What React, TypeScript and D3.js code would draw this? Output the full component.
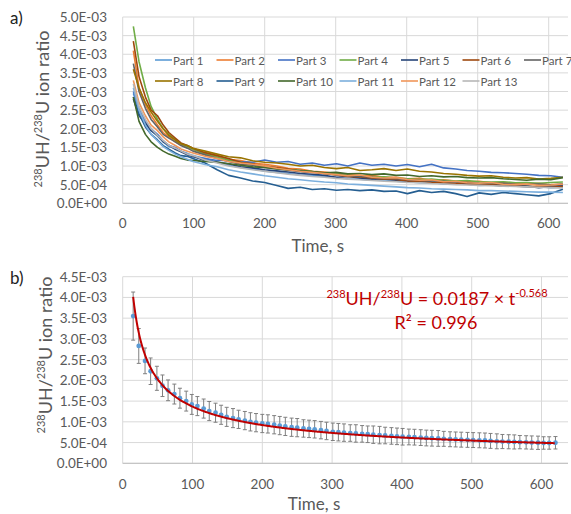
import React from 'react';
import * as d3 from 'd3';

// values are stored in units of 1e-4 (ion ratio)
const UNIT = 1e-4;

const LINE_TIMES = [15, 23, 32, 40, 49, 57, 65, 74, 82, 91, 99,
  116, 133, 149, 166, 183, 200, 217, 233, 250, 267,
  284, 301, 317, 334, 351, 368, 385, 401, 418, 435,
  452, 469, 485, 502, 519, 536, 553, 569, 586, 603, 620];

const PART_NAMES = ['Part 1', 'Part 2', 'Part 3', 'Part 4', 'Part 5', 'Part 6', 'Part 7',
  'Part 8', 'Part 9', 'Part 10', 'Part 11', 'Part 12', 'Part 13'];
const PART_COLORS = ['#5B9BD5', '#ED7D31', '#4472C4', '#70AD47', '#264478', '#9E480E', '#636363',
  '#997300', '#255E91', '#43682B', '#7CAFDD', '#F1975A', '#B7B7B7'];

const PART1 = [29.5, 25.0, 21.5, 19.5, 18.0, 16.5, 15.2, 14.8, 14.0, 13.4,
  12.8, 12.0, 11.0, 10.2, 9.6, 9.3, 8.6, 8.3, 8.0, 7.6,
  7.5, 7.2, 6.9, 6.6, 6.5, 6.2, 6.3, 5.9, 5.8, 5.5,
  5.6, 5.2, 5.1, 5.2, 4.8, 4.9, 4.6, 4.7, 4.4, 4.5,
  4.2, 4.3];
const PART2 = [41.0, 31.0, 26.5, 23.5, 21.0, 19.0, 17.8, 16.5, 15.8, 15.0,
  14.5, 13.5, 12.8, 11.8, 11.5, 10.8, 10.5, 10.0, 9.4, 9.2,
  8.6, 8.4, 8.0, 7.9, 7.4, 7.5, 7.0, 7.0, 6.6, 6.7,
  6.2, 6.3, 6.0, 5.8, 5.9, 5.5, 5.6, 5.3, 5.2, 5.4,
  5.0, 5.1];
const PART3 = [30.0, 25.5, 22.0, 20.0, 18.5, 16.8, 15.5, 15.0, 14.0, 13.2,
  12.5, 12.0, 11.5, 11.5, 11.2, 11.0, 11.6, 11.0, 11.2, 10.5,
  10.8, 10.2, 10.6, 10.0, 10.8, 10.2, 10.5, 10.0, 10.4, 9.8,
  10.5, 9.5, 9.2, 8.8, 8.6, 8.3, 8.2, 8.0, 7.8, 7.5,
  7.4, 7.0];
const PART4 = [47.5, 38.0, 31.0, 26.0, 22.5, 20.0, 18.5, 17.0, 16.0, 15.2,
  14.5, 13.2, 12.4, 11.6, 11.0, 10.4, 9.8, 9.5, 9.0, 8.8,
  8.5, 8.0, 7.9, 7.5, 7.4, 7.0, 7.1, 6.8, 6.6, 6.4,
  6.5, 6.2, 6.0, 6.1, 5.8, 5.7, 5.8, 5.5, 5.6, 5.4,
  5.6, 5.7];
const PART5 = [28.0, 23.5, 21.5, 19.5, 18.2, 16.5, 15.6, 14.5, 13.8, 13.0,
  12.6, 11.4, 11.0, 10.6, 9.8, 9.5, 9.0, 8.7, 8.4, 8.0,
  7.8, 7.5, 7.0, 7.2, 6.8, 6.5, 6.6, 6.2, 6.0, 6.1,
  5.7, 5.6, 5.4, 5.5, 5.0, 5.2, 4.8, 4.9, 4.6, 4.2,
  4.5, 4.8];
const PART6 = [43.5, 34.0, 28.5, 25.0, 23.5, 21.0, 19.0, 17.5, 16.2, 15.5,
  14.8, 13.6, 12.8, 12.0, 11.0, 10.6, 10.0, 9.6, 9.2, 8.6,
  8.4, 8.0, 7.6, 7.2, 7.1, 6.8, 6.5, 6.4, 6.0, 5.9,
  5.6, 5.5, 5.3, 5.1, 4.9, 5.0, 4.7, 4.6, 4.5, 4.4,
  4.3, 4.5];
const PART7 = [37.5, 30.0, 25.5, 22.5, 20.5, 18.5, 17.5, 16.5, 15.5, 14.8,
  14.0, 13.0, 12.0, 11.2, 10.5, 10.2, 9.6, 9.3, 8.9, 8.5,
  8.3, 8.1, 7.6, 7.4, 7.2, 7.0, 6.7, 6.6, 6.4, 6.1,
  6.0, 5.9, 5.7, 5.6, 5.4, 5.3, 5.4, 5.1, 5.0, 5.2,
  4.9, 5.2];
const PART8 = [36.0, 31.0, 27.0, 24.5, 22.0, 20.0, 18.2, 17.0, 16.0, 15.5,
  14.8, 14.0, 13.2, 12.5, 12.2, 11.4, 11.0, 10.8, 10.5, 10.0,
  10.2, 9.6, 9.3, 9.6, 8.8, 9.0, 9.3, 8.8, 9.2, 8.6,
  8.4, 8.0, 7.8, 7.5, 7.3, 7.4, 7.0, 6.8, 6.9, 6.5,
  6.7, 7.0];
const PART9 = [28.5, 24.0, 20.5, 18.5, 17.0, 15.5, 14.5, 13.5, 12.8, 12.6,
  12.0, 10.8, 9.0, 7.5, 6.8, 6.0, 5.6, 4.8, 4.0, 4.3,
  3.7, 3.9, 3.5, 3.7, 3.4, 3.6, 3.2, 3.3, 2.6, 3.4,
  2.9, 3.2, 2.6, 1.8, 2.8, 2.4, 2.9, 2.6, 2.3, 2.0,
  2.6, 3.8];
const PART10 = [28.5, 22.0, 18.5, 16.5, 15.0, 14.0, 13.2, 12.6, 12.0, 11.6,
  11.5, 11.2, 11.0, 10.6, 10.2, 9.8, 9.6, 9.2, 9.0, 8.8,
  8.5, 8.2, 8.3, 7.9, 8.0, 7.7, 7.9, 7.5, 7.6, 7.2,
  7.4, 7.1, 7.2, 6.9, 6.8, 6.9, 6.6, 6.4, 6.2, 6.5,
  6.3, 6.9];
const PART11 = [31.0, 25.0, 21.0, 18.5, 16.8, 15.2, 14.2, 13.2, 12.5, 11.8,
  11.2, 10.4, 9.8, 9.0, 8.4, 7.9, 7.4, 7.0, 6.6, 6.3,
  6.0, 5.7, 5.5, 5.2, 5.0, 4.8, 4.6, 4.4, 4.2, 4.1,
  3.9, 3.8, 3.7, 3.6, 3.4, 3.4, 3.3, 3.2, 3.1, 3.0,
  3.0, 2.9];
const PART12 = [33.0, 27.0, 23.5, 21.0, 19.5, 17.8, 16.5, 15.5, 14.6, 14.0,
  13.5, 12.6, 12.0, 11.2, 10.8, 10.5, 10.0, 9.4, 9.0, 8.6,
  8.3, 8.0, 7.7, 7.4, 7.6, 7.0, 6.8, 6.9, 6.4, 6.2,
  6.3, 5.8, 5.9, 5.5, 5.4, 5.6, 5.1, 5.0, 5.2, 4.8,
  4.9, 5.1];
const PART13 = [32.0, 26.0, 22.5, 20.0, 18.2, 16.8, 15.6, 14.8, 14.0, 13.2,
  12.8, 11.6, 10.8, 10.0, 9.5, 9.0, 8.6, 8.2, 7.8, 7.5,
  7.2, 7.0, 6.7, 6.5, 6.3, 6.1, 5.9, 5.8, 5.6, 5.5,
  5.3, 5.2, 5.0, 4.9, 4.8, 4.7, 4.6, 4.5, 4.4, 4.3,
  4.2, 4.1];
const PARTS = [PART1, PART2, PART3, PART4, PART5, PART6, PART7, PART8, PART9, PART10, PART11, PART12, PART13];

const MEAN_TIMES = [15, 23, 32, 40, 49, 57, 65, 74, 82, 91,
  99, 107, 116, 124, 133, 141, 149, 158, 166, 175,
  183, 191, 200, 208, 217, 225, 233, 242, 250, 259,
  267, 275, 284, 292, 301, 309, 317, 326, 334, 343,
  351, 359, 368, 376, 385, 393, 401, 410, 418, 427,
  435, 443, 452, 460, 469, 477, 485, 494, 502, 511,
  519, 527, 536, 544, 553, 561, 569, 578, 586, 595,
  603, 611, 620];
const MEAN_VALUES = [35.5, 28.3, 24.7, 22.2, 20.5, 18.7, 17.6, 16.7, 15.7, 15.0,
  14.2, 13.8, 13.2, 12.6, 12.2, 11.7, 11.2, 10.9, 10.6, 10.3,
  10.0, 9.8, 9.6, 9.5, 9.3, 9.1, 8.9, 8.7, 8.6, 8.4,
  8.3, 8.2, 8.0, 7.8, 7.6, 7.5, 7.4, 7.3, 7.2, 7.1,
  7.0, 6.9, 6.8, 6.7, 6.6, 6.5, 6.4, 6.35, 6.3, 6.2,
  6.1, 6.05, 6.0, 5.9, 5.8, 5.75, 5.7, 5.65, 5.6, 5.55,
  5.5, 5.4, 5.3, 5.25, 5.2, 5.15, 5.1, 5.05, 5.0, 4.95,
  4.9, 4.9, 4.95];
const MEAN_SD = [5.8, 4.2, 3.1, 3.2, 2.9, 2.6, 2.5, 2.4, 2.4, 2.4,
  2.4, 2.3, 2.3, 2.3, 2.3, 2.3, 2.3, 2.3, 2.2, 2.2,
  2.2, 2.2, 2.2, 2.2, 2.2, 2.2, 2.2, 2.2, 2.2, 2.1,
  2.1, 2.1, 2.1, 2.1, 2.1, 2.1, 2.1, 2.0, 2.1, 2.0,
  2.0, 2.1, 2.1, 2.0, 2.0, 2.0, 2.0, 1.9, 1.9, 1.9,
  1.9, 1.9, 1.9, 1.8, 1.8, 1.8, 1.8, 1.8, 1.8, 1.8,
  1.8, 1.8, 1.8, 1.7, 1.7, 1.7, 1.6, 1.6, 1.6, 1.6,
  1.5, 1.5, 1.5];

const FIT_COEF = 0.0187;
const FIT_EXP = -0.568;

const X_TICKS = [0, 100, 200, 300, 400, 500, 600];
const Y_TICKS_A = [0, 5, 10, 15, 20, 25, 30, 35, 40, 45, 50];
const Y_LABELS_A = ['0.0E+00', '5.0E-04', '1.0E-03', '1.5E-03', '2.0E-03', '2.5E-03', '3.0E-03', '3.5E-03', '4.0E-03', '4.5E-03', '5.0E-03'];
const Y_TICKS_B = [0, 5, 10, 15, 20, 25, 30, 35, 40, 45];
const Y_LABELS_B = ['0.0E+00', '5.0E-04', '1.0E-03', '1.5E-03', '2.0E-03', '2.5E-03', '3.0E-03', '3.5E-03', '4.0E-03', '4.5E-03'];

const FONT = 'Lato, "Open Sans", sans-serif';
const GRID = '#d9d9d9';
const TXT = '#595959';

function YTitle({ x, y }: { x: number; y: number }) {
  return (
    <text transform={`translate(${x},${y}) rotate(-90)`} textAnchor="middle" fontSize={18} fill={TXT} fontFamily={FONT} dominantBaseline="central">
      <tspan fontSize={11} dy={-5}>238</tspan>
      <tspan dy={5}>UH/</tspan>
      <tspan fontSize={11} dy={-5}>238</tspan>
      <tspan dy={5}>U ion ratio</tspan>
    </text>
  );
}

function Frame({ x, y, yTicks, yLabels, tickY, titleY }: any) {
  const [top, bottom] = [y.range()[1], y.range()[0]];
  const [left, right] = x.range();
  return (
    <g>
      {yTicks.map((t: number, i: number) => (
        <g key={'h' + t}>
          <line x1={left} x2={right} y1={y(t * UNIT)} y2={y(t * UNIT)} stroke={GRID} strokeWidth={1} />
          <text x={107} y={y(t * UNIT)} textAnchor="end" dominantBaseline="central" fontSize={13.5} fill={TXT} fontFamily={FONT}>{yLabels[i]}</text>
        </g>
      ))}
      {X_TICKS.map((t) => (
        <g key={'v' + t}>
          <line x1={x(t)} x2={x(t)} y1={top} y2={bottom} stroke={GRID} strokeWidth={1} />
          <text x={x(t)} y={tickY} textAnchor="middle" dominantBaseline="central" fontSize={13.5} fill={TXT} fontFamily={FONT}>{t}</text>
        </g>
      ))}
      <line x1={left} x2={right} y1={bottom} y2={bottom} stroke="#bfbfbf" strokeWidth={1} />
      <text x={(x(0) + x(600)) / 2 - 18} y={titleY} textAnchor="middle" dominantBaseline="central" fontSize={17} fill={TXT} fontFamily={FONT}>Time, s</text>
    </g>
  );
}

export default function App() {
  const W = 571, H = 514;
  // panel a
  const xa = d3.scaleLinear().domain([0, 600]).range([122.7, 548.7]);
  const xA = d3.scaleLinear().domain([0, xa.invert(568)]).range([122.7, 568]);
  const yA = d3.scaleLinear().domain([0, 5e-3]).range([203.3, 17]);
  // panel b
  const xb = d3.scaleLinear().domain([0, 600]).range([122.7, 541.5]);
  const xB = d3.scaleLinear().domain([0, xb.invert(568)]).range([122.7, 568]);
  const yB = d3.scaleLinear().domain([0, 4.5e-3]).range([463.3, 276.7]);

  const lineA = d3.line<number>().x((_, i) => xA(LINE_TIMES[i])).y((v) => yA(v * UNIT));
  const fitPts = d3.range(15, 621, 2).map((t) => [t, FIT_COEF * Math.pow(t, FIT_EXP)] as [number, number]);
  const fitLine = d3.line<[number, number]>().x((d) => xB(d[0])).y((d) => yB(d[1])).curve(d3.curveMonotoneX);

  const legendX = [155, 216.5, 278, 339.5, 401, 462.5, 524];
  const legendY = [60, 81];

  return (
    <svg width={W} height={H} style={{ position: 'absolute', left: 0, top: 0, background: '#fff' }} fontFamily={FONT}>
      <rect width={W} height={H} fill="#fff" />
      {/* Panel a */}
      <text x={10} y={17} dominantBaseline="central" fontSize={17} fill="#222" fontFamily={FONT}>a)</text>
      <Frame x={xA} y={yA} yTicks={Y_TICKS_A} yLabels={Y_LABELS_A} tickY={223} titleY={245} />
      <YTitle x={42} y={109} />
      {PARTS.map((s, i) => (
        <path key={'p' + i} d={lineA(s) || ''} fill="none" stroke={PART_COLORS[i]} strokeWidth={1.6} strokeLinejoin="round" />
      ))}
      {PART_NAMES.map((n, i) => {
        const col = i % 7, row = Math.floor(i / 7);
        const lx = legendX[col], ly = legendY[row];
        return (
          <g key={'l' + i}>
            <line x1={lx} x2={lx + 17} y1={ly} y2={ly} stroke={PART_COLORS[i]} strokeWidth={1.6} />
            <text x={lx + 18} y={ly} dominantBaseline="central" fontSize={11.5} fill={TXT} fontFamily={FONT}>{n}</text>
          </g>
        );
      })}

      {/* Panel b */}
      <text x={10} y={277} dominantBaseline="central" fontSize={17} fill="#222" fontFamily={FONT}>b)</text>
      <Frame x={xB} y={yB} yTicks={Y_TICKS_B} yLabels={Y_LABELS_B} tickY={484} titleY={503} />
      <YTitle x={45} y={355} />
      {MEAN_TIMES.map((t, i) => {
        const cx = xB(t);
        const y1 = yB((MEAN_VALUES[i] + MEAN_SD[i]) * UNIT);
        const y2 = yB((MEAN_VALUES[i] - MEAN_SD[i]) * UNIT);
        return (
          <g key={'e' + i} stroke="#7f7f7f" strokeWidth={1}>
            <line x1={cx} x2={cx} y1={y1} y2={y2} />
            <line x1={cx - 2} x2={cx + 2} y1={y1} y2={y1} />
            <line x1={cx - 2} x2={cx + 2} y1={y2} y2={y2} />
          </g>
        );
      })}
      {MEAN_TIMES.map((t, i) => (
        <circle key={'c' + i} cx={xB(t)} cy={yB(MEAN_VALUES[i] * UNIT)} r={2.4} fill="#5B9BD5" />
      ))}
      <path d={fitLine(fitPts) || ''} fill="none" stroke="#C00000" strokeWidth={2} />
      <text x={437} y={298} textAnchor="middle" dominantBaseline="central" fontSize={18} fill="#C00000" fontFamily={FONT}>
        <tspan fontSize={11} dy={-5}>238</tspan>
        <tspan dy={5}>UH/</tspan>
        <tspan fontSize={11} dy={-5}>238</tspan>
        <tspan dy={5}>U = 0.0187 × t</tspan>
        <tspan fontSize={11} dy={-6}>-0.568</tspan>
      </text>
      <text x={436} y={322} textAnchor="middle" dominantBaseline="central" fontSize={18} fill="#C00000" fontFamily={FONT}>R² = 0.996</text>
    </svg>
  );
}
